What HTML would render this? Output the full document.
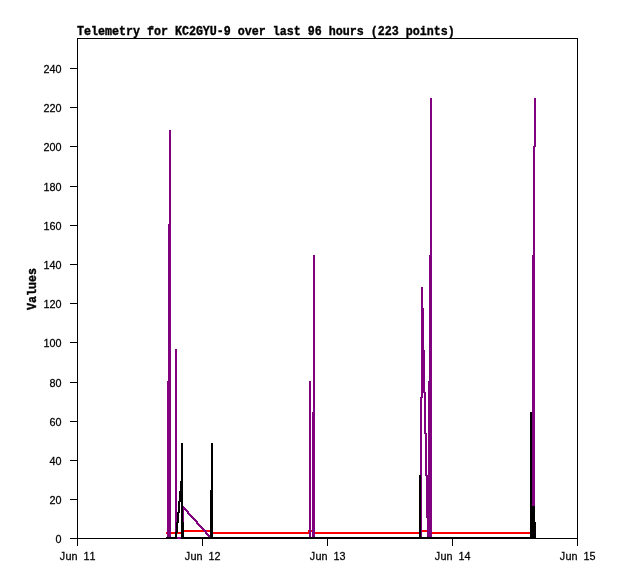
<!DOCTYPE html>
<html><head><meta charset="utf-8"><title>Telemetry for KC2GYU-9</title>
<style>
html,body{margin:0;padding:0;background:#fff}
svg{display:block}
text{fill:#000;white-space:pre}
.s{font-family:"Liberation Sans",sans-serif;font-size:11.4px;stroke:#000;stroke-width:0.25px}
.t{font-family:"Liberation Mono",monospace;font-size:13.66px;font-weight:bold;stroke:#000;stroke-width:0.4px}
</style></head><body>
<svg width="618" height="579" viewBox="0 0 618 579">
<rect width="618" height="579" fill="#fff"/>
<g shape-rendering="crispEdges">
<path fill="none" stroke="#000" stroke-width="1" d="M77.5 38.5H577.5V538.5H77.5Z"/>
<path fill="none" stroke="#000" stroke-width="1" d="M70 538.5H77M70 499.5H77M70 460.5H77M70 421.5H77M70 382.5H77M70 342.5H77M70 303.5H77M70 264.5H77M70 225.5H77M70 186.5H77M70 146.5H77M70 107.5H77M70 68.5H77M77.5 538V546M202.5 538V546M327.5 538V546M452.5 538V546M577.5 538V546"/>
<path fill="#ff0000" d="M166 532h1v2h-1zM171 532h4v2h-4zM178 532h3v2h-3zM213 532h95v2h-95zM315 532h104v2h-104zM432 532h98v2h-98zM177 533h1v1h-1zM184 530h19v2h-19zM207 530h3v2h-3zM311 530h1v2h-1zM422 530h5v2h-5zM203 531h1v1h-1zM206 530h1v1h-1zM308 530h1v4h-1z"/>
<path fill="#800080" d="M167 381h1v156h-1zM309 381h2v156h-2zM428 381h1v156h-1zM168 224h1v313h-1zM169 130h2v407h-2zM175 349h1v183h-1zM176 349h1v173h-1zM177 537h4v2h-4zM183 506h1v16h-1zM184 507h1v3h-1zM185 508h1v3h-1zM186 509h1v3h-1zM187 510h1v4h-1zM188 511h1v4h-1zM189 513h1v3h-1zM190 514h1v3h-1zM191 515h1v3h-1zM192 516h1v3h-1zM193 517h1v3h-1zM194 518h1v3h-1zM195 519h1v3h-1zM196 520h1v4h-1zM197 521h1v4h-1zM198 523h1v3h-1zM199 524h1v3h-1zM200 525h1v3h-1zM201 526h1v3h-1zM202 527h1v3h-1zM203 528h1v3h-1zM204 529h1v3h-1zM205 530h1v4h-1zM206 531h1v4h-1zM207 533h1v3h-1zM208 534h1v3h-1zM209 535h1v2h-1zM312 412h1v125h-1zM313 255h2v282h-2zM429 255h1v282h-1zM420 397h1v78h-1zM421 287h1v250h-1zM422 287h1v111h-1zM423 308h1v85h-1zM424 350h1v84h-1zM425 392h1v84h-1zM426 433h1v85h-1zM427 475h1v62h-1zM430 98h2v439h-2zM532 255h1v251h-1zM533 146h1v360h-1zM534 98h1v408h-1zM535 98h1v49h-1z"/>
<path fill="#000000" d="M166 537h9v2h-9zM184 537h26v2h-26zM213 537h206v2h-206zM421 537h109v2h-109zM175 532h1v7h-1zM176 522h1v17h-1zM183 522h1v17h-1zM535 522h1v17h-1zM177 512h1v21h-1zM178 501h1v22h-1zM179 491h1v22h-1zM180 481h1v21h-1zM181 443h2v96h-2zM211 443h2v96h-2zM210 490h1v49h-1zM419 475h2v64h-2zM530 412h2v127h-2zM532 506h3v33h-3z"/>
</g>
<g>
<text class="s" transform="scale(0.9500,1)" y="543" x="58.41">0</text>
<text class="s" transform="scale(0.9500,1)" y="504" x="52.09 58.41">20</text>
<text class="s" transform="scale(0.9500,1)" y="465" x="52.09 58.41">40</text>
<text class="s" transform="scale(0.9500,1)" y="426" x="52.09 58.41">60</text>
<text class="s" transform="scale(0.9500,1)" y="387" x="52.09 58.41">80</text>
<text class="s" transform="scale(0.9500,1)" y="347" x="45.78 52.09 58.41">100</text>
<text class="s" transform="scale(0.9500,1)" y="308" x="45.78 52.09 58.41">120</text>
<text class="s" transform="scale(0.9500,1)" y="269" x="45.78 52.09 58.41">140</text>
<text class="s" transform="scale(0.9500,1)" y="230" x="45.78 52.09 58.41">160</text>
<text class="s" transform="scale(0.9500,1)" y="191" x="45.78 52.09 58.41">180</text>
<text class="s" transform="scale(0.9500,1)" y="151" x="45.78 52.09 58.41">200</text>
<text class="s" transform="scale(0.9500,1)" y="112" x="45.78 52.09 58.41">220</text>
<text class="s" transform="scale(0.9500,1)" y="73" x="45.78 52.09 58.41">240</text>
<text class="s" transform="scale(0.9500,1)" y="560" x="62.94 68.94 75.25 83.15 87.88 94.20">Jun 11</text>
<text class="s" transform="scale(0.9500,1)" y="560" x="194.52 200.51 206.83 214.73 219.46 225.78">Jun 12</text>
<text class="s" transform="scale(0.9500,1)" y="560" x="326.10 332.09 338.41 346.31 351.04 357.36">Jun 13</text>
<text class="s" transform="scale(0.9500,1)" y="560" x="457.68 463.67 469.99 477.89 482.62 488.94">Jun 14</text>
<text class="s" transform="scale(0.9500,1)" y="560" x="589.26 595.25 601.57 609.47 614.20 620.51">Jun 15</text>
<text class="t" transform="translate(77,35) scale(0.8541,1)">Telemetry for KC2GYU-9 over last 96 hours (223 points)</text>
<text class="t" transform="translate(36,310) rotate(-90) scale(0.8541,1)">Values</text>
</g>
</svg>
</body></html>
